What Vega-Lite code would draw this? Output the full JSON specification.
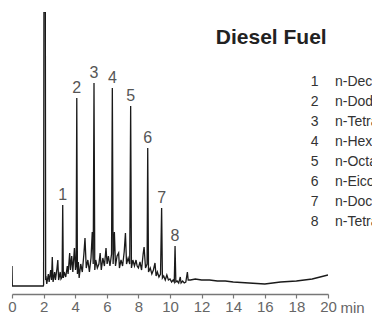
{
  "$schema": "https://vega.github.io/schema/vega-lite/v6.json",
  "width": 316,
  "height": 282,
  "autosize": {"type": "none"},
  "padding": {"left": 12, "top": 12, "right": 44, "bottom": 21},
  "background": "white",
  "config": {
    "view": {"stroke": null},
    "font": "Liberation Sans",
    "axis": {
      "domainColor": "#777",
      "domainWidth": 1.5,
      "tickColor": "#777",
      "tickSize": 4,
      "tickWidth": 1.2,
      "labelFont": "Liberation Sans",
      "labelFontSize": 15,
      "labelColor": "#666",
      "labelPadding": 1,
      "labelOverlap": false,
      "grid": false
    }
  },
  "datasets": {
    "trace": [
      {"t": 0.0, "v": 28}, {"t": 0.02, "v": 8}, {"t": 1.0, "v": 8}, {"t": 1.98, "v": 8},
      {"t": 2.0, "v": 9}, {"t": 2.02, "v": 282}, {"t": 2.11, "v": 282}, {"t": 2.13, "v": 14},
      {"t": 2.15, "v": 18}, {"t": 2.2, "v": 10}, {"t": 2.3, "v": 20}, {"t": 2.35, "v": 12},
      {"t": 2.45, "v": 24}, {"t": 2.5, "v": 14}, {"t": 2.55, "v": 37}, {"t": 2.6, "v": 12},
      {"t": 2.7, "v": 22}, {"t": 2.75, "v": 14}, {"t": 2.85, "v": 26}, {"t": 2.9, "v": 34},
      {"t": 2.95, "v": 14}, {"t": 3.05, "v": 22}, {"t": 3.1, "v": 15}, {"t": 3.17, "v": 17},
      {"t": 3.21, "v": 89}, {"t": 3.25, "v": 16}, {"t": 3.3, "v": 22}, {"t": 3.4, "v": 17},
      {"t": 3.5, "v": 28}, {"t": 3.55, "v": 20}, {"t": 3.65, "v": 41}, {"t": 3.7, "v": 24},
      {"t": 3.78, "v": 38}, {"t": 3.85, "v": 22}, {"t": 3.95, "v": 46}, {"t": 4.02, "v": 24},
      {"t": 4.06, "v": 28}, {"t": 4.1, "v": 196}, {"t": 4.14, "v": 20}, {"t": 4.2, "v": 32},
      {"t": 4.25, "v": 16}, {"t": 4.35, "v": 30}, {"t": 4.45, "v": 22}, {"t": 4.55, "v": 40},
      {"t": 4.62, "v": 56}, {"t": 4.7, "v": 26}, {"t": 4.8, "v": 34}, {"t": 4.9, "v": 22},
      {"t": 5.0, "v": 36}, {"t": 5.08, "v": 62}, {"t": 5.14, "v": 30}, {"t": 5.19, "v": 211},
      {"t": 5.24, "v": 24}, {"t": 5.3, "v": 34}, {"t": 5.4, "v": 26}, {"t": 5.5, "v": 30},
      {"t": 5.58, "v": 41}, {"t": 5.65, "v": 24}, {"t": 5.75, "v": 36}, {"t": 5.85, "v": 28},
      {"t": 5.95, "v": 46}, {"t": 6.02, "v": 30}, {"t": 6.1, "v": 38}, {"t": 6.2, "v": 28},
      {"t": 6.3, "v": 40}, {"t": 6.35, "v": 206}, {"t": 6.4, "v": 30}, {"t": 6.48, "v": 62},
      {"t": 6.55, "v": 28}, {"t": 6.65, "v": 38}, {"t": 6.75, "v": 41}, {"t": 6.8, "v": 26},
      {"t": 6.9, "v": 34}, {"t": 7.0, "v": 28}, {"t": 7.1, "v": 42}, {"t": 7.18, "v": 61},
      {"t": 7.25, "v": 30}, {"t": 7.35, "v": 36}, {"t": 7.45, "v": 30}, {"t": 7.51, "v": 188},
      {"t": 7.56, "v": 26}, {"t": 7.65, "v": 34}, {"t": 7.75, "v": 28}, {"t": 7.85, "v": 34},
      {"t": 7.92, "v": 28}, {"t": 8.0, "v": 26}, {"t": 8.1, "v": 32}, {"t": 8.2, "v": 24},
      {"t": 8.3, "v": 40}, {"t": 8.36, "v": 47}, {"t": 8.45, "v": 26}, {"t": 8.55, "v": 30},
      {"t": 8.59, "v": 146}, {"t": 8.64, "v": 22}, {"t": 8.75, "v": 26}, {"t": 8.85, "v": 20},
      {"t": 8.95, "v": 24}, {"t": 9.05, "v": 31}, {"t": 9.12, "v": 18}, {"t": 9.2, "v": 22},
      {"t": 9.3, "v": 17}, {"t": 9.4, "v": 20}, {"t": 9.47, "v": 86}, {"t": 9.52, "v": 16},
      {"t": 9.6, "v": 18}, {"t": 9.7, "v": 14}, {"t": 9.8, "v": 19}, {"t": 9.9, "v": 14},
      {"t": 10.0, "v": 15}, {"t": 10.1, "v": 12}, {"t": 10.2, "v": 14}, {"t": 10.27, "v": 12},
      {"t": 10.32, "v": 48}, {"t": 10.37, "v": 12}, {"t": 10.45, "v": 13}, {"t": 10.55, "v": 11},
      {"t": 10.65, "v": 17}, {"t": 10.7, "v": 11}, {"t": 10.8, "v": 13}, {"t": 10.9, "v": 11},
      {"t": 11.0, "v": 12}, {"t": 11.1, "v": 22}, {"t": 11.15, "v": 14}, {"t": 11.3, "v": 14},
      {"t": 11.6, "v": 15}, {"t": 12.0, "v": 14}, {"t": 12.5, "v": 14}, {"t": 13.0, "v": 13},
      {"t": 13.5, "v": 13}, {"t": 14.0, "v": 12}, {"t": 15.0, "v": 11}, {"t": 16.0, "v": 10},
      {"t": 16.5, "v": 11}, {"t": 17.0, "v": 12}, {"t": 18.0, "v": 13}, {"t": 19.0, "v": 15},
      {"t": 19.5, "v": 17}, {"t": 20.0, "v": 19}
    ],
    "peaks": [
      {"n": "1", "t": 3.21, "top": 89},
      {"n": "2", "t": 4.1, "top": 196},
      {"n": "3", "t": 5.19, "top": 211},
      {"n": "4", "t": 6.35, "top": 206},
      {"n": "5", "t": 7.51, "top": 188},
      {"n": "6", "t": 8.59, "top": 146},
      {"n": "7", "t": 9.47, "top": 86},
      {"n": "8", "t": 10.32, "top": 48}
    ],
    "legend": [
      {"n": 1, "name": "n-Decane"},
      {"n": 2, "name": "n-Dodecane"},
      {"n": 3, "name": "n-Tetradecane"},
      {"n": 4, "name": "n-Hexadecane"},
      {"n": 5, "name": "n-Octadecane"},
      {"n": 6, "name": "n-Eicosane"},
      {"n": 7, "name": "n-Docosane"},
      {"n": 8, "name": "n-Tetracosane"}
    ]
  },
  "layer": [
    {
      "data": {"name": "trace"},
      "mark": {"type": "line", "color": "#1a1a1a", "strokeWidth": 1.3, "clip": true},
      "encoding": {
        "x": {
          "field": "t", "type": "quantitative",
          "scale": {"domain": [0, 20], "nice": false},
          "axis": {
            "values": [0, 2, 4, 6, 8, 10, 12, 14, 16, 18, 20],
            "tickCount": 11,
            "title": "min",
            "titleFont": "Liberation Sans",
            "titleFontSize": 15,
            "titleFontWeight": "normal",
            "titleColor": "#666",
            "titleX": 328,
            "titleY": 18,
            "titleAlign": "left",
            "titleBaseline": "alphabetic",
            "labelFlush": false,
            "labelOverlap": false
          }
        },
        "y": {"field": "v", "type": "quantitative", "scale": {"domain": [0, 282], "nice": false}, "axis": null}
      }
    },
    {
      "data": {"name": "peaks"},
      "mark": {"type": "text", "fontSize": 16, "color": "#555", "baseline": "middle", "dy": -10, "font": "Liberation Sans"},
      "encoding": {
        "x": {"field": "t", "type": "quantitative"},
        "y": {"field": "top", "type": "quantitative", "scale": {"domain": [0, 282], "nice": false}, "axis": null},
        "text": {"field": "n"}
      }
    },
    {
      "data": {"values": [{"label": "Diesel Fuel"}]},
      "mark": {"type": "text", "fontSize": 21, "fontWeight": "bold", "color": "#222", "align": "left", "baseline": "alphabetic", "font": "Liberation Sans"},
      "encoding": {
        "x": {"datum": 12.9, "type": "quantitative"},
        "y": {"datum": 250, "type": "quantitative", "scale": {"domain": [0, 282], "nice": false}, "axis": null},
        "text": {"field": "label"}
      }
    },
    {
      "data": {"name": "legend"},
      "mark": {"type": "text", "fontSize": 14, "color": "#333", "align": "right", "baseline": "middle", "font": "Liberation Sans"},
      "encoding": {
        "x": {"datum": 19.4, "type": "quantitative"},
        "y": {"field": "n", "type": "quantitative", "scale": {"domain": [-2.5, 11.6], "reverse": true, "nice": false, "zero": false}, "axis": null},
        "text": {"field": "n"}
      }
    },
    {
      "data": {"name": "legend"},
      "mark": {"type": "text", "fontSize": 14, "color": "#333", "align": "left", "baseline": "middle", "font": "Liberation Sans"},
      "encoding": {
        "x": {"datum": 20.44, "type": "quantitative"},
        "y": {"field": "n", "type": "quantitative", "scale": {"domain": [-2.5, 11.6], "reverse": true, "nice": false, "zero": false}, "axis": null},
        "text": {"field": "name"}
      }
    }
  ],
  "resolve": {"scale": {"y": "independent"}}
}
